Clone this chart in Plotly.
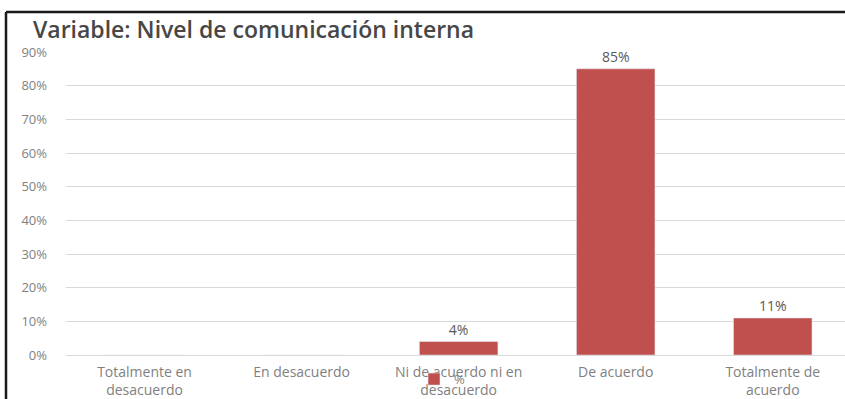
import plotly.graph_objects as go

# Survey responses for the variable "Nivel de comunicación interna"
categories = ["Totalmente en<br>desacuerdo", "En desacuerdo", "Ni de acuerdo ni en<br>desacuerdo",
              "De acuerdo", "Totalmente de<br>acuerdo"]
percentages = [0, 0, 4, 85, 11]
y_ticks = [0, 10, 20, 30, 40, 50, 60, 70, 80, 90]
y_tick_labels = [f"{t}%" for t in y_ticks]

bar_color = "#c0504d"
tick_color = "#7f7f7f"
font_family = "Open Sans, DejaVu Sans, sans-serif"

labels = [f"{v}%" if v else "" for v in percentages]

fig = go.Figure(
    go.Bar(
        x=categories,
        y=percentages,
        name="%",
        marker_color=bar_color,
        text=labels,
        textposition="outside",
        textfont=dict(family=font_family, size=14, color="#595959"),
        cliponaxis=False,
        showlegend=True,
    )
)

W, H = 845, 399
ml, mr, mt, mb = 66, 0, 52, 44

fig.update_layout(
    width=W,
    height=H,
    margin=dict(l=ml, r=mr, t=mt, b=mb),
    paper_bgcolor="white",
    plot_bgcolor="white",
    bargap=0.5,
    font=dict(family=font_family, color=tick_color, size=12),
    title=dict(
        text="Variable: Nivel de comunicación interna",
        x=33 / W, xanchor="left",
        y=1 - 30 / H, yanchor="middle",
        font=dict(family=font_family, size=23, color="#474747", weight=600),
    ),
    legend=dict(
        x=(414 - ml) / (W - ml - mr),
        y=-0.03,
        xanchor="left", yanchor="top",
        orientation="h",
        bgcolor="rgba(0,0,0,0)",
        font=dict(family=font_family, size=13, color=tick_color),
        itemwidth=30,
    ),
    xaxis=dict(
        range=[-0.5, 4.46],
        showgrid=False,
        showline=False,
        ticks="",
        automargin=False,
        tickfont=dict(family=font_family, size=14, color=tick_color),
        ticklabelstandoff=7,
    ),
    yaxis=dict(
        range=[0, 90],
        tickvals=y_ticks,
        ticktext=y_tick_labels,
        showgrid=True,
        gridcolor="#d9d9d9",
        gridwidth=1,
        zeroline=True,
        zerolinecolor="#d9d9d9",
        zerolinewidth=1,
        showline=False,
        ticks="",
        automargin=False,
        ticklabelstandoff=18,
        tickfont=dict(family=font_family, size=13, color=tick_color),
    ),
)

# Chart frame edges (left and top) drawn in paper coordinates
pw = W - ml - mr
ph = H - mt - mb
x_left = (6 - ml) / pw
y_top = ((H - mb) - 12) / ph
y_bot = ((H - mb) - H) / ph
frame = dict(type="line", xref="paper", yref="paper", line=dict(color="#1a1a1a", width=2.5))
fig.add_shape(**frame, x0=x_left, x1=x_left, y0=y_bot, y1=y_top)
fig.add_shape(**frame, x0=x_left, x1=1.0, y0=y_top, y1=y_top)

fig.write_html("out.html")
